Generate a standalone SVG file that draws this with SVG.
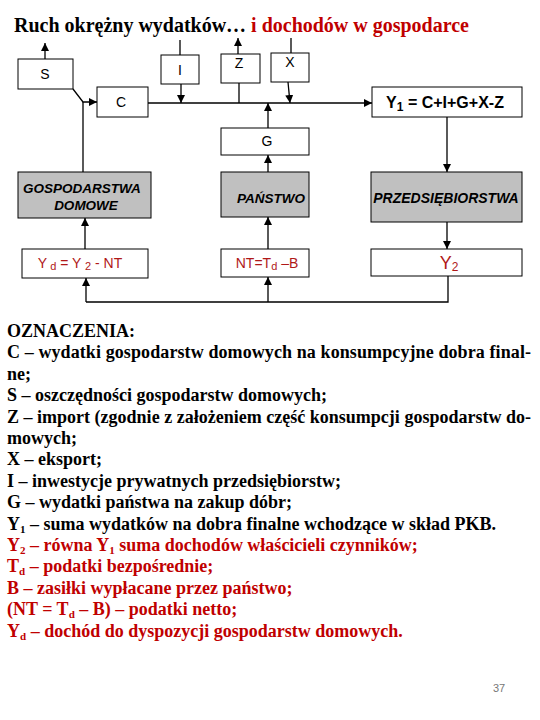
<svg xmlns="http://www.w3.org/2000/svg" width="540" height="720" viewBox="0 0 540 720">
<style>
.box{fill:#fff;stroke:#000;stroke-width:1}
.gray{fill:#c0c0c0;stroke:#000;stroke-width:1}
.lbl{font-family:"Liberation Sans",Arial,sans-serif;font-size:14px;fill:#000;text-anchor:middle}
.bi{font-family:"Liberation Sans",Arial,sans-serif;font-size:13.5px;font-weight:bold;font-style:italic;fill:#000;text-anchor:middle}
.rd{font-family:"Liberation Sans",Arial,sans-serif;font-size:14px;fill:#b01818;text-anchor:middle}
.c line,.c polyline{stroke:#000;stroke-width:1.3;fill:none}
.leg{font-family:"Liberation Serif","Times New Roman",serif;font-size:18px;font-weight:bold;fill:#000}
.red{fill:#c00000}
.sub{font-size:11px}
</style>
<defs>
<marker id="ah" markerUnits="userSpaceOnUse" markerWidth="8" markerHeight="8" refX="8" refY="4" orient="auto">
<path d="M0,0 L8,4 L0,8 z" fill="#000"/>
</marker>
</defs>
<text x="14" y="32" font-family="Liberation Serif,'Times New Roman',serif" font-size="20" font-weight="bold" fill="#000" textLength="455" lengthAdjust="spacingAndGlyphs">Ruch okrężny wydatków… <tspan fill="#c00000">i dochodów w gospodarce</tspan></text>

<g id="S"><rect class="box" x="18" y="59" width="55" height="30"/><text class="lbl" x="45" y="79">S</text></g>
<g id="C"><rect class="box" x="97" y="87" width="51" height="30"/><text class="lbl" x="121" y="107">C</text></g>
<g id="I"><rect class="box" x="161" y="55" width="38" height="29"/><text class="lbl" x="180" y="75">I</text></g>
<g id="Z"><rect class="box" x="221" y="54" width="39" height="29"/><text class="lbl" x="239" y="68">Z</text></g>
<g id="X"><rect class="box" x="271" y="53" width="38" height="29"/><text class="lbl" x="290" y="67">X</text></g>
<g id="Y1"><rect class="box" x="372" y="87" width="150" height="30"/><text class="lbl" x="445" y="108" style="font-size:16px;font-weight:bold">Y<tspan style="font-size:12px" dy="3">1</tspan><tspan dy="-3"> = C+I+G+X-Z</tspan></text></g>
<g id="G"><rect class="box" x="221" y="128" width="88" height="27"/><text class="lbl" x="267" y="146">G</text></g>
<g id="GD"><rect class="gray" x="18" y="172" width="133" height="46"/><text class="bi" x="82" y="193">GOSPODARSTWA</text><text class="bi" x="86" y="210">DOMOWE</text></g>
<g id="P"><rect class="gray" x="221" y="172" width="88" height="45"/><text class="bi" x="271" y="203">PAŃSTWO</text></g>
<g id="PR"><rect class="gray" x="371" y="172" width="151" height="50"/><text class="bi" x="446" y="203" style="font-size:14px">PRZEDSIĘBIORSTWA</text></g>
<g id="Yd"><rect class="box" x="22" y="249" width="126" height="29"/><text class="rd" x="80" y="268">Y<tspan class="sub" dy="2"> d</tspan><tspan dy="-2"> = Y </tspan><tspan class="sub" dy="2">2</tspan><tspan dy="-2"> - NT</tspan></text></g>
<g id="NT"><rect class="box" x="221" y="249" width="88" height="28"/><text class="rd" x="267" y="268">NT=T<tspan class="sub" dy="2">d</tspan><tspan dy="-2"> –B</tspan></text></g>
<g id="Y2"><rect class="box" x="371" y="249" width="151" height="27"/><text class="rd" x="449" y="269" style="font-size:18px">Y<tspan style="font-size:12px" dy="2">2</tspan></text></g>

<g id="connectors" class="c">
<line x1="45" y1="59" x2="45" y2="43" marker-end="url(#ah)"/>
<polyline points="73,89 83,102 97,102" marker-end="url(#ah)"/>
<line x1="83" y1="102" x2="83" y2="172"/>
<line x1="148" y1="103" x2="372" y2="103" marker-end="url(#ah)"/>
<line x1="180" y1="40" x2="180" y2="55"/>
<line x1="181" y1="84" x2="181" y2="103" marker-end="url(#ah)"/>
<line x1="238" y1="54" x2="238" y2="38" marker-end="url(#ah)"/>
<line x1="239" y1="83" x2="239" y2="103"/>
<line x1="291" y1="38" x2="291" y2="53"/>
<line x1="288" y1="82" x2="290" y2="103" marker-end="url(#ah)"/>
<line x1="268" y1="128" x2="268" y2="103" marker-end="url(#ah)"/>
<line x1="268" y1="172" x2="268" y2="155" marker-end="url(#ah)"/>
<line x1="268" y1="249" x2="268" y2="217" marker-end="url(#ah)"/>
<line x1="268" y1="302" x2="268" y2="277" marker-end="url(#ah)"/>
<line x1="85" y1="249" x2="85" y2="218" marker-end="url(#ah)"/>
<line x1="86" y1="302" x2="86" y2="278" marker-end="url(#ah)"/>
<polyline points="86,302 448,302 448,276"/>
<line x1="447" y1="117" x2="447" y2="172" marker-end="url(#ah)"/>
<line x1="447" y1="222" x2="447" y2="249" marker-end="url(#ah)"/>
</g>

<g id="legend" class="leg">
<text x="7" y="337">OZNACZENIA:</text>
<text x="7" y="358" textLength="524" lengthAdjust="spacing">C – wydatki gospodarstw domowych na konsumpcyjne dobra final-</text>
<text x="7" y="380">ne;</text>
<text x="7" y="401">S – oszczędności gospodarstw domowych;</text>
<text x="7" y="423" textLength="524" lengthAdjust="spacing">Z – import (zgodnie z założeniem część konsumpcji gospodarstw do-</text>
<text x="7" y="444">mowych;</text>
<text x="7" y="465">X – eksport;</text>
<text x="7" y="487">I – inwestycje prywatnych przedsiębiorstw;</text>
<text x="7" y="508">G – wydatki państwa na zakup dóbr;</text>
<text x="7" y="530">Y<tspan class="sub" dy="3">1</tspan><tspan dy="-3"> – suma wydatków na dobra finalne wchodzące w skład PKB.</tspan></text>
<text x="7" y="551" class="red">Y<tspan class="sub" dy="3">2</tspan><tspan dy="-3"> – równa Y</tspan><tspan class="sub" dy="3">1</tspan><tspan dy="-3"> suma dochodów właścicieli czynników;</tspan></text>
<text x="7" y="572" class="red">T<tspan class="sub" dy="3">d</tspan><tspan dy="-3"> – podatki bezpośrednie;</tspan></text>
<text x="7" y="594" class="red">B – zasiłki wypłacane przez państwo;</text>
<text x="7" y="615" class="red">(NT = T<tspan class="sub" dy="3">d</tspan><tspan dy="-3"> – B) – podatki netto;</tspan></text>
<text x="7" y="637" class="red">Y<tspan class="sub" dy="3">d</tspan><tspan dy="-3"> – dochód do dyspozycji gospodarstw domowych.</tspan></text>
</g>
<text x="499" y="692" font-family="Liberation Sans,Arial,sans-serif" font-size="11" fill="#777" text-anchor="middle">37</text>
</svg>
